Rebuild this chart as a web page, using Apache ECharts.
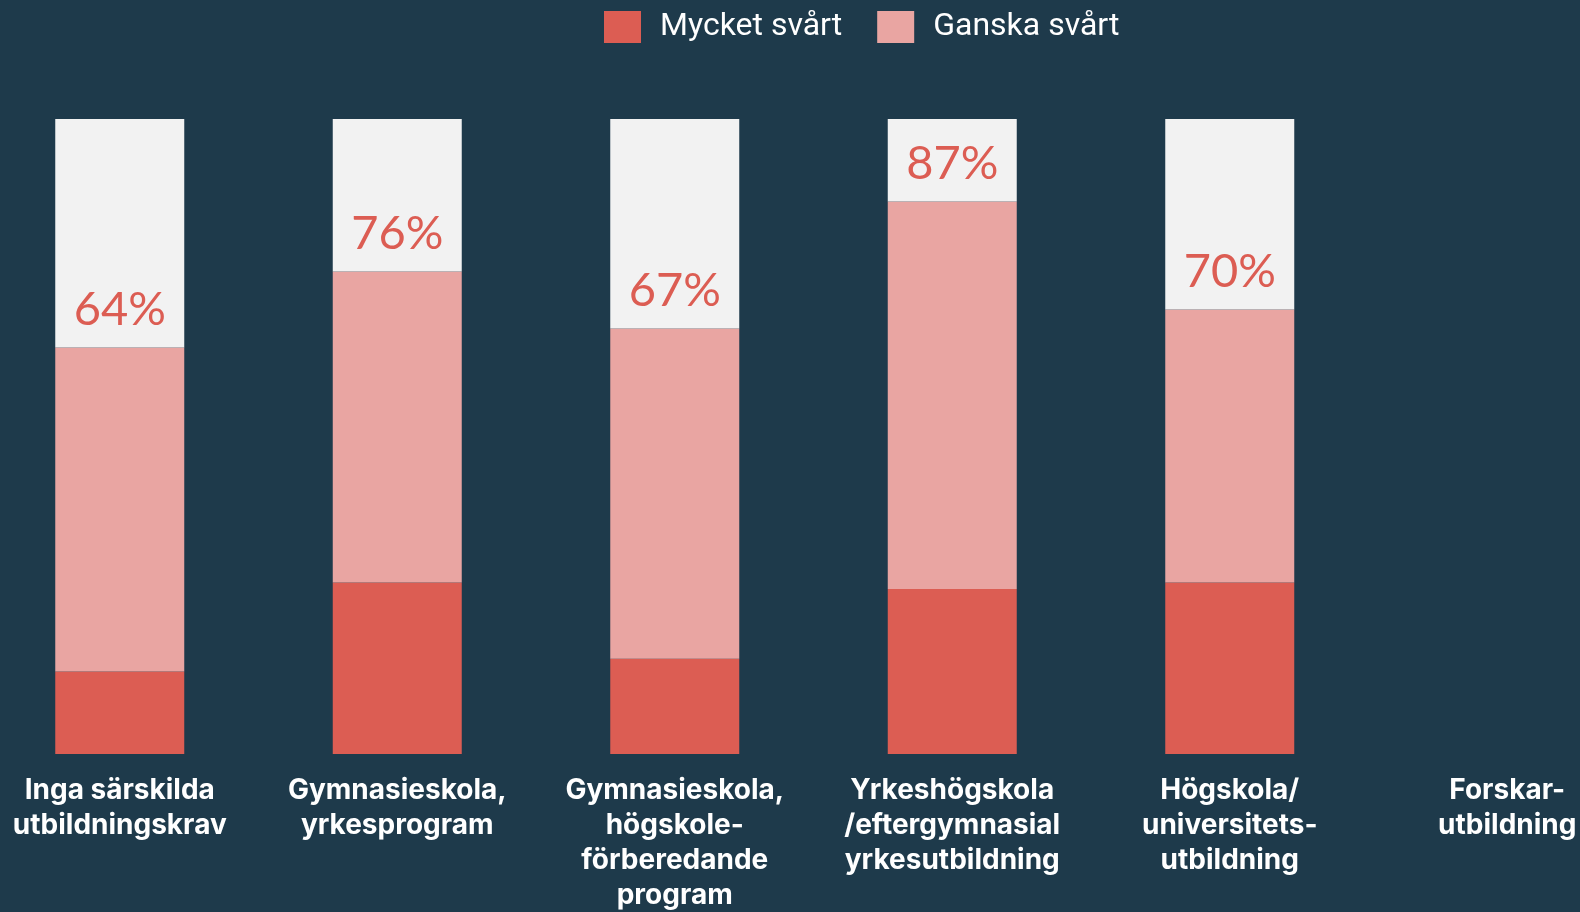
<!DOCTYPE html>
<html>
<head>
<meta charset="utf-8">
<script src="https://cdn.jsdelivr.net/npm/echarts@6/dist/echarts.min.js"></script>
<style>
  html, body { margin: 0; padding: 0; background: #1e3a4b; overflow: hidden; }
  /* diagrammet går något utanför fönstret i originalet */
  #chart { position: absolute; left: -19px; top: 0; width: 1665px; height: 912px; }
</style>
</head>
<body>
<div id="chart"></div>
<script>
// kategorier (utbildningsnivå)
const categories = [
  'Inga särskilda\nutbildningskrav',
  'Gymnasieskola,\nyrkesprogram',
  'Gymnasieskola,\nhögskole-\nförberedande\nprogram',
  'Yrkeshögskola\n/eftergymnasial\nyrkesutbildning',
  'Högskola/\nuniversitets-\nutbildning',
  'Forskar-\nutbildning'
]
// andel i procent
const mycketSvart = [13, 27, 15, 26, 27, null]
const ganskaSvart = [51, 49, 52, 61, 43, null]

const RED = '#dc5d53'
const PINK = '#e9a5a2'
const GREY = '#f2f2f2'

// resten upp till 100 %, för den ljusa bakgrunden i stapeln
const rest = mycketSvart.map((v, i) => v == null ? null : 100 - v - ganskaSvart[i])

const chart = echarts.init(document.getElementById('chart'))
chart.setOption({
  backgroundColor: '#1e3a4b',
  animation: false,
  legend: {
    data: ['Mycket svårt', 'Ganska svårt'],
    left: 623,
    top: 11,
    padding: 0,
    itemWidth: 37,
    itemHeight: 32,
    itemGap: 35,
    icon: 'rect',
    textStyle: { color: '#ffffff', fontSize: 32, fontFamily: 'Roboto', padding: [0, 0, 0, 14] }
  },
  grid: { left: 0, right: 0, top: 119, bottom: 158, outerBoundsMode: 'none' },
  xAxis: {
    type: 'category',
    data: categories,
    axisLine: { show: false },
    axisTick: { show: false },
    axisLabel: {
      interval: 0,
      margin: 19,
      color: '#ffffff',
      fontSize: 28,
      fontWeight: 'bold',
      fontFamily: 'Inter',
      lineHeight: 35
    }
  },
  yAxis: {
    type: 'value',
    min: 0,
    max: 100,
    show: false
  },
  series: [
    {
      name: 'Mycket svårt',
      type: 'bar',
      stack: 'tot',
      barWidth: 129,
      itemStyle: { color: RED },
      data: mycketSvart
    },
    {
      name: 'Ganska svårt',
      type: 'bar',
      stack: 'tot',
      barWidth: 129,
      itemStyle: { color: PINK },
      label: {
        show: true,
        position: 'top',
        distance: 14,
        color: RED,
        fontSize: 47,
        lineHeight: 47,
        fontWeight: 'normal',
        fontFamily: 'Lato',
        formatter: p => (mycketSvart[p.dataIndex] + ganskaSvart[p.dataIndex]) + '%'
      },
      data: ganskaSvart
    },
    {
      name: 'rest',
      type: 'bar',
      stack: 'tot',
      barWidth: 129,
      itemStyle: { color: GREY },
      data: rest
    }
  ]
})
</script>
</body>
</html>
